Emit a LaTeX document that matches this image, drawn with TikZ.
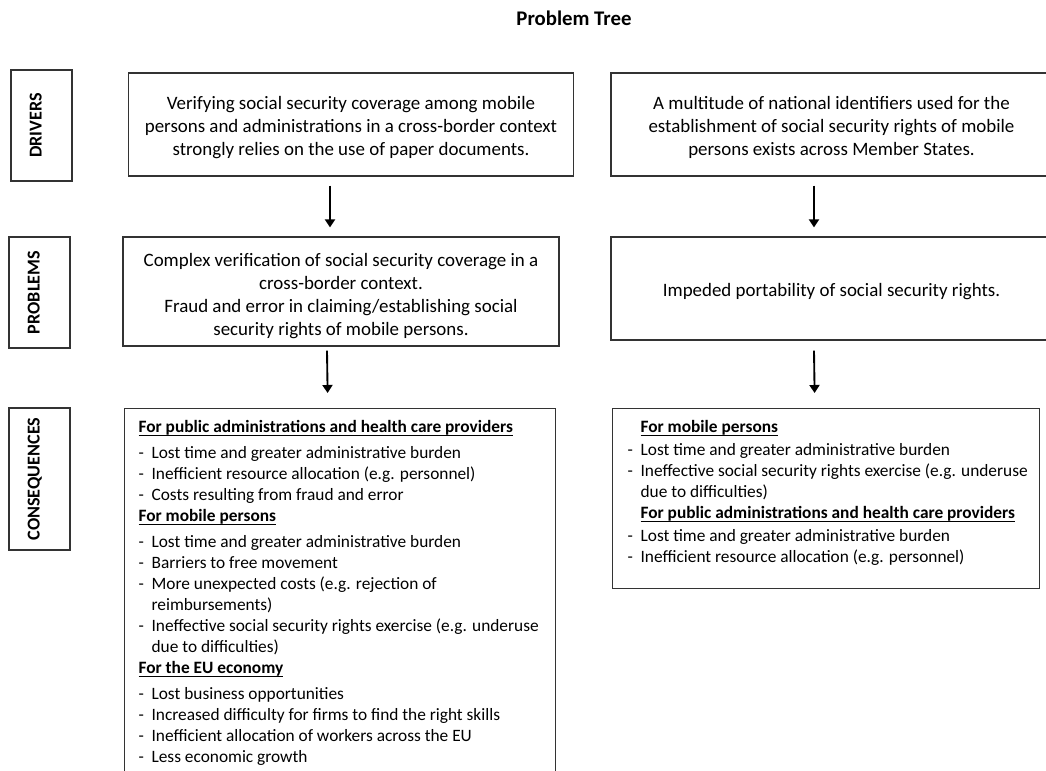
\documentclass[tikz,border=0pt]{standalone}
\usepackage{fontspec}
\setmainfont{Carlito}
\usetikzlibrary{arrows.meta}

\newdimen\px \px=0.75pt
\newcommand{\itm}{\makebox[13\px][l]{-}}
\newcommand{\ind}{\hspace*{13\px}}
\newcommand{\tp}{\rule{0pt}{15pt}}
\newcommand{\hd}[1]{\leavevmode\setbox0\hbox{\textbf{#1}}\rlap{\rule[-2.4pt]{\wd0}{0.8pt}}\box0}

\begin{document}
\begin{tikzpicture}[
    x=0.75pt, y=-0.75pt,
    rowlabel/.style={draw=black!80, line width=0.9pt, rotate=90, font=\fontsize{13.6}{16}\selectfont\bfseries,
        minimum height=61\px, inner sep=0pt, text height=0.65em, text depth=0.65em},
    box/.style={draw=black!80, line width=0.9pt, align=center, inner sep=0pt,
        font=\fontsize{14.2}{17.25}\selectfont},
    listbox/.style={draw=black!80, line width=0.9pt, anchor=north west, inner ysep=12\px,
        font=\fontsize{13}{15.75}\selectfont},
    arrow/.style={-{Triangle[length=6pt,width=7.5pt]}, line width=1.4pt},
]
\useasboundingbox (0,0) rectangle (1046,771);

% Title
\node[font=\fontsize{15.6}{18}\selectfont\bfseries] (title) at (574,18) {Problem Tree};

% Row labels
\node[rowlabel, minimum width=111\px] (ldrv) at (41.5,125.5) {DRIVERS};
\node[rowlabel, minimum width=111\px] (lprb) at (39.5,292.5) {PROBLEMS};
\node[rowlabel, minimum width=142\px] (lcon) at (39.5,479) {CONSEQUENCES};

% Drivers
\node[box, minimum width=445\px, minimum height=103\px] (d1) at (351,124.5)
    {\tp Verifying social security coverage among mobile\\
     persons and administrations in a cross-border context\\
     strongly relies on the use of paper documents.};
\node[box, minimum width=441\px, minimum height=103\px] (d2) at (831.5,124.5)
    {\tp A multitude of national identifiers used for the\\
     establishment of social security rights of mobile\\
     persons exists across Member States.};

% Problems
\node[box, minimum width=436\px, minimum height=109\px] (p1) at (341,291.5)
    {\rule{0pt}{16.5pt}Complex verification of social security coverage in a\\
     cross-border context.\\
     Fraud and error in claiming/establishing social\\
     security rights of mobile persons.};
\node[box, minimum width=441\px, minimum height=103\px] (p2) at (831.5,288.5)
    {\tp Impeded portability of social security rights.};

% Consequences
\node[listbox, inner xsep=14\px] (c1) at (124,408)
    {\parbox[c][362\px][t]{403\px}{\raggedright
     \hd{For public administrations and health care providers}\\[3.75pt]
     \itm Lost time and greater administrative burden\\
     \itm Inefficient resource allocation (e.g. personnel)\\
     \itm Costs resulting from fraud and error\\
     \hd{For mobile persons}\\[3.75pt]
     \itm Lost time and greater administrative burden\\
     \itm Barriers to free movement\\
     \itm More unexpected costs (e.g. rejection of\\
     \ind reimbursements)\\
     \itm \mbox{Ineffective social security rights exercise (e.g. underuse}\\
     \ind due to difficulties)\\
     \hd{For the EU economy}\\[3.75pt]
     \itm Lost business opportunities\\
     \itm Increased difficulty for firms to find the right skills\\
     \itm Inefficient allocation of workers across the EU\\
     \itm Less economic growth}};
\node[listbox, inner xsep=15\px] (c2) at (612,408)
    {\parbox[c][156\px][t]{397\px}{\raggedright
     \ind\hd{For mobile persons}\\[1.5pt]
     \itm Lost time and greater administrative burden\\
     \itm \mbox{Ineffective social security rights exercise (e.g. underuse}\\
     \ind due to difficulties)\\
     \ind\hd{For public administrations and health care providers}\\[1.5pt]
     \itm Lost time and greater administrative burden\\
     \itm Inefficient resource allocation (e.g. personnel)}};

% Arrows
\draw[arrow] ([shift={(-21,9)}]d1.south) -- ([shift={(-11,-9)}]p1.north);
\draw[arrow] ([shift={(-17.5,9)}]d2.south) -- ([shift={(-17.5,-9)}]p2.north);
\draw[arrow] ([shift={(-14,4)}]p1.south) -- ([shift={(-12.5,-15)}]c1.north);
\draw[arrow] ([shift={(-17.5,10)}]p2.south) -- ([shift={(-11.5,-15)}]c2.north);

\end{tikzpicture}
\end{document}
